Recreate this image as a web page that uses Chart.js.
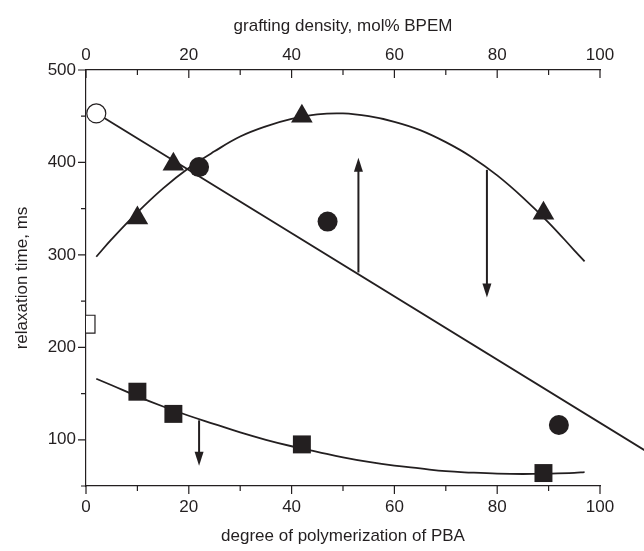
<!DOCTYPE html>
<html>
<head>
<meta charset="utf-8">
<script src="https://cdn.jsdelivr.net/npm/chart.js@4.4.1/dist/chart.umd.min.js"></script>
<style>
  html, body { margin: 0; padding: 0; background: #fff; }
</style>
</head>
<body>
<canvas id="chart" width="644" height="551"></canvas>
<script>
// Pontos (x = grau de polimerização do PBA)
var triX = [10, 17, 42, 89]
var triY = [340, 398, 450, 345]
var dotX = [22, 47, 92]
var dotY = [395, 336, 116]
var sqX = [10, 17, 42, 89]
var sqY = [152, 128, 95, 64]
var openDotX = [2]
var openDotY = [453]
var openSqX = [0]
var openSqY = [225]

// Curvas de ajuste traçadas a partir da figura
var fitX = [2, 5, 10, 15, 20, 25, 30, 35, 40, 45, 50, 55, 60, 65, 70, 75, 80, 85, 90, 95, 97]
var fitTriY = [298, 317, 346, 372, 394, 412, 428, 439, 447, 452, 453, 450, 444, 435, 422, 406, 386, 362, 335, 305, 293]
var fitSqY = [166, 159, 147, 136, 126, 117, 108, 100, 93, 87, 81, 76, 72, 69, 66, 64.5, 63.4, 63, 63.4, 64.2, 65]
var lineX = [3, 120]
var lineY = [450, 50]

// Setas: posição x, valor inicial e final
var arrowX = [53, 78, 22]
var arrowFrom = [281, 392, 121]
var arrowTo = [405, 254, 72]

// Marcas dos eixos
var xMajor = [0, 20, 40, 60, 80, 100]
var xMinor = [10, 30, 50, 70, 90]
var yMajor = [100, 200, 300, 400, 500]
var yMinor = [50, 150, 250, 350, 450]

var ink = '#231f20'
var font = { family: 'Liberation Sans, Arial, sans-serif', size: 17 }

function pts(xs, ys) {
    return xs.map((x, i) => ({ x: x, y: ys[i] }))
}

// Desenha as marcas (maiores e menores) e as setas usando as escalas do Chart.js
var extras = {
    id: 'extras',
    afterDatasetsDraw(chart) {
        let ctx = chart.ctx
        let sx = chart.scales.x
        let sy = chart.scales.y
        let area = chart.chartArea
        ctx.save()
        ctx.strokeStyle = ink
        ctx.lineWidth = 1.2
        ctx.beginPath()
        xMajor.concat(xMinor).forEach(v => {
            let len = xMajor.includes(v) ? 8 : 5
            let px = sx.getPixelForValue(v)
            ctx.moveTo(px, area.bottom)
            ctx.lineTo(px, area.bottom + len)
            ctx.moveTo(px, area.top)
            ctx.lineTo(px, area.top + len)
        })
        yMajor.concat(yMinor).forEach(v => {
            let len = yMajor.includes(v) ? 8 : 5
            let py = sy.getPixelForValue(v)
            ctx.moveTo(area.left, py)
            ctx.lineTo(area.left - len, py)
        })
        ctx.stroke()

        // setas
        ctx.lineWidth = 2
        ctx.fillStyle = ink
        for (let i = 0; i < arrowX.length; i++) {
            let px = sx.getPixelForValue(arrowX[i])
            let y0 = sy.getPixelForValue(arrowFrom[i])
            let y1 = sy.getPixelForValue(arrowTo[i])
            let dir = y1 < y0 ? 1 : -1
            ctx.beginPath()
            ctx.moveTo(px, y0)
            ctx.lineTo(px, y1 + dir * 10)
            ctx.stroke()
            ctx.beginPath()
            ctx.moveTo(px, y1)
            ctx.lineTo(px - 4.5, y1 + dir * 14)
            ctx.lineTo(px + 4.5, y1 + dir * 14)
            ctx.closePath()
            ctx.fill()
        }
        ctx.restore()
    }
}

function fixX(h) {
    return function (s) {
        s.height = h
        s.paddingLeft = 0
        s.paddingRight = 0
    }
}

new Chart(document.getElementById('chart'), {
    type: 'scatter',
    data: {
        datasets: [
            { data: pts(triX, triY), pointStyle: 'triangle', pointRadius: 12.5, backgroundColor: ink, borderColor: ink, borderWidth: 0 },
            { data: pts(dotX, dotY), pointStyle: 'circle', pointRadius: 10, backgroundColor: ink, borderColor: ink, borderWidth: 0 },
            { data: pts(sqX, sqY), pointStyle: 'rect', pointRadius: 12.7, backgroundColor: ink, borderColor: ink, borderWidth: 0 },
            { data: pts(openDotX, openDotY), pointStyle: 'circle', pointRadius: 9.5, backgroundColor: '#fff', borderColor: ink, borderWidth: 1.2 },
            { data: pts(openSqX, openSqY), pointStyle: 'rect', pointRadius: 12.7, backgroundColor: '#fff', borderColor: ink, borderWidth: 1.2 },
            { data: pts(fitX, fitTriY), showLine: true, pointRadius: 0, borderColor: ink, borderWidth: 1.8, tension: 0.4 },
            { data: pts(fitX, fitSqY), showLine: true, pointRadius: 0, borderColor: ink, borderWidth: 1.8, tension: 0.4 },
            { data: pts(lineX, lineY), showLine: true, pointRadius: 0, borderColor: ink, borderWidth: 1.8, clip: false }
        ]
    },
    options: {
        responsive: false,
        animation: false,
        devicePixelRatio: 1,
        layout: { padding: { left: 0, top: 0, right: 44, bottom: 0 } },
        plugins: { legend: { display: false }, tooltip: { enabled: false } },
        scales: {
            x: {
                type: 'linear', position: 'bottom', min: 0, max: 100,
                afterBuildTicks: s => { s.ticks = xMajor.map(v => ({ value: v })) },
                afterFit: fixX(65),
                grid: { display: false, drawTicks: false },
                border: { display: true, color: ink, width: 1.2 },
                ticks: { color: ink, font: font, padding: 11, maxRotation: 0 },
                title: { display: true, text: 'degree of polymerization of PBA', color: ink, font: font, padding: { top: 0, bottom: 4 } }
            },
            x2: {
                type: 'linear', position: 'top', min: 0, max: 100,
                afterBuildTicks: s => { s.ticks = xMajor.map(v => ({ value: v })) },
                afterFit: fixX(70),
                grid: { display: false, drawTicks: false },
                border: { display: true, color: ink, width: 1.2 },
                ticks: { color: ink, font: font, padding: 4, maxRotation: 0 },
                title: { display: true, text: 'grafting density, mol% BPEM', color: ink, font: font, padding: { top: 16, bottom: 0 } }
            },
            y: {
                type: 'linear', min: 50, max: 500,
                afterBuildTicks: s => { s.ticks = yMajor.map(v => ({ value: v })) },
                afterFit: s => { s.width = 86; s.paddingTop = 0; s.paddingBottom = 0 },
                grid: { display: false, drawTicks: false },
                border: { display: true, color: ink, width: 1.2 },
                ticks: { color: ink, font: font, padding: 10 },
                title: { display: true, text: 'relaxation time, ms', color: ink, font: font, padding: { top: 12, bottom: 0 } }
            }
        }
    },
    plugins: [extras]
});
</script>
</body>
</html>
